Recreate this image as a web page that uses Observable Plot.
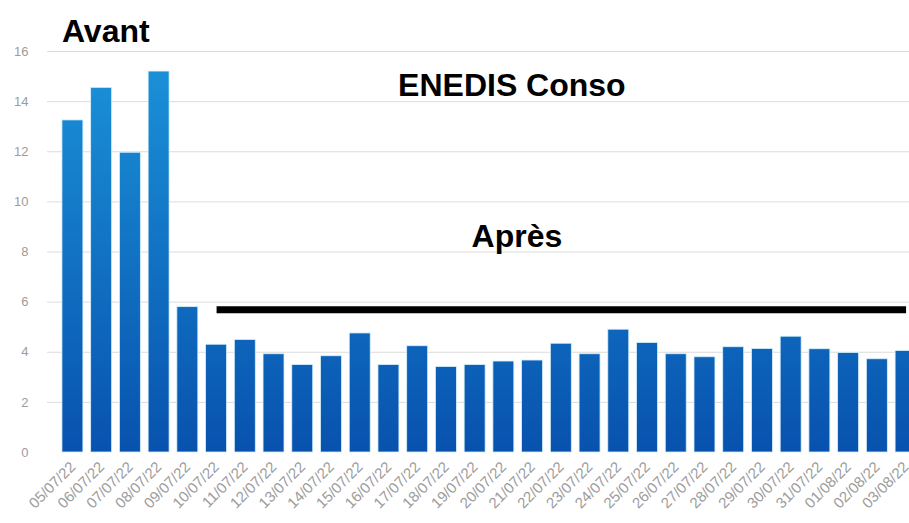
<!DOCTYPE html>
<html>
<head>
<meta charset="utf-8">
<script src="https://cdn.jsdelivr.net/npm/d3@7"></script>
<script src="https://cdn.jsdelivr.net/npm/@observablehq/plot@0.6"></script>
<style>
  html, body { margin: 0; padding: 0; background: #fff; overflow: hidden; }
  #chart { width: 909px; height: 523px; overflow: hidden; }
  #chart svg { overflow: hidden; }
  #chart g[aria-label^="x-axis"] text { font-size: 15px; }
  #chart g[aria-label^="y-axis"] text { font-size: 13px; }
</style>
</head>
<body>
<div id="chart"></div>
<script>
// ---- data ----
const dates = [
  "05/07/22","06/07/22","07/07/22","08/07/22","09/07/22","10/07/22","11/07/22",
  "12/07/22","13/07/22","14/07/22","15/07/22","16/07/22","17/07/22","18/07/22",
  "19/07/22","20/07/22","21/07/22","22/07/22","23/07/22","24/07/22","25/07/22",
  "26/07/22","27/07/22","28/07/22","29/07/22","30/07/22","31/07/22","01/08/22",
  "02/08/22","03/08/22"
];
const conso = [
  13.25, 14.55, 11.96, 15.2, 5.8, 4.3, 4.49, 3.92, 3.49, 3.84, 4.75, 3.49,
  4.24, 3.41, 3.49, 3.63, 3.67, 4.34, 3.92, 4.9, 4.37, 3.92, 3.8, 4.2,
  4.13, 4.62, 4.12, 3.97, 3.72, 4.05
];
const yTicks = [0, 2, 4, 6, 8, 10, 12, 14, 16];
const gridTicks = [2, 4, 6, 8, 10, 12, 14, 16];

// annotation texts
const annoText = ["Avant", "ENEDIS Conso", "Après"];
const annoDate = ["05/07/22", "20/07/22", "20/07/22"];
const annoLevel = [16.77, 14.65, 8.59];
const annoAnchor = ["start", "middle", "middle"];
const annoDx = [-11, 8, 13];

// "après" level line
const apresDates = ["10/07/22", "03/08/22"];
const apresLevel = [5.7, 5.7];

const bars = dates.map((d, i) => ({date: d, value: conso[i]}));
const annos = annoText.map((t, i) => ({text: t, date: annoDate[i], y: annoLevel[i], anchor: annoAnchor[i], dx: annoDx[i]}));
const apres = apresDates.map((d, i) => ({date: d, y: apresLevel[i]}));

const chart = Plot.plot({
  width: 909,
  height: 523,
  marginLeft: 47,
  marginRight: -22,
  marginTop: 51,
  marginBottom: 71,
  style: {color: "#9c9c9c", fontFamily: "'Liberation Sans', Arial, sans-serif", background: "#fff"},
  x: {domain: dates, round: false, paddingInner: 0.27, paddingOuter: 0.52, tickRotate: -45, tickSize: 0, tickPadding: 12, label: null},
  y: {domain: [0, 16], ticks: yTicks, tickSize: 0, tickPadding: 19, label: null},
  marks: [
    Plot.ruleY(gridTicks, {stroke: "#dcdcdc", strokeWidth: 1}),
    Plot.barY(bars, {x: "date", y: "value", fill: "url(#barGrad)", stroke: "#d4f0fc", strokeWidth: 0.8}),
    Plot.line(apres, {x: "date", y: "y", stroke: "#000", strokeWidth: 7, strokeLinecap: "butt"}),
    ...annos.map(a => Plot.text([a], {x: "date", y: "y", text: "text", textAnchor: a.anchor, dx: a.dx, fill: "#000", fontSize: 32, fontWeight: "bold", fontFamily: "'Liberation Sans', Arial, sans-serif"}))
  ]
});

// vertical gradient for the bars, spanning the plot's y range
const ys = chart.scale("y");
const y0 = ys.apply(16), y1 = ys.apply(0);
const svg = d3.select(chart);
const defs = svg.insert("defs", ":first-child");
const grad = defs.append("linearGradient")
  .attr("id", "barGrad")
  .attr("gradientUnits", "userSpaceOnUse")
  .attr("x1", 0).attr("x2", 0).attr("y1", y0).attr("y2", y1);
grad.append("stop").attr("offset", "0%").attr("stop-color", "#1b93d9");
grad.append("stop").attr("offset", "100%").attr("stop-color", "#0852ae");

document.getElementById("chart").appendChild(chart);
</script>
</body>
</html>
